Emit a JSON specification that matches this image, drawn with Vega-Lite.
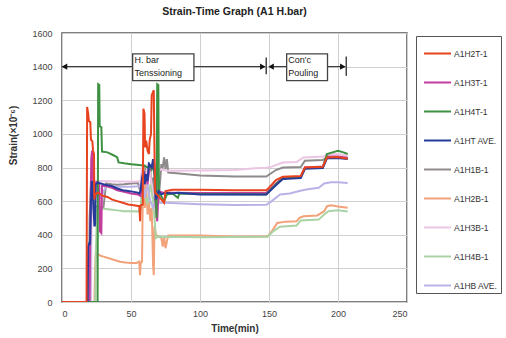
{
  "$schema": "https://vega.github.io/schema/vega-lite/v6.json",
  "width": 345,
  "height": 269,
  "autosize": {"type": "none"},
  "padding": {"left": 62, "top": 33, "right": 99, "bottom": 36},
  "background": "white",
  "title": {"text": "Strain-Time Graph (A1 H.bar)", "font": "Liberation Sans", "fontSize": 10.5, "fontWeight": "bold", "color": "#222", "offset": 12, "anchor": "middle"},
  "config": {
    "view": {"stroke": "#555", "strokeWidth": 1.5},
    "axis": {"labelFont": "Liberation Sans", "labelFontSize": 9, "labelColor": "#444", "titleFont": "Liberation Sans", "titleFontSize": 10, "titleFontWeight": "bold", "titleColor": "#333", "gridColor": "#cfcfcf", "gridWidth": 1, "domain": false, "ticks": false, "labelOverlap": false, "format": "d"},
    "legend": {"labelFont": "Liberation Sans", "labelFontSize": 8.5, "labelColor": "#333"}
  },
  "datasets": {
    "series": [
      {"s":"A1H1B-1","t":0,"v":0},{"s":"A1H1B-1","t":19.5,"v":0},{"s":"A1H1B-1","t":20,"v":500},{"s":"A1H1B-1","t":21,"v":700},{"s":"A1H1B-1","t":22,"v":680},{"s":"A1H1B-1","t":23,"v":600},{"s":"A1H1B-1","t":24,"v":570},{"s":"A1H1B-1","t":26,"v":565},{"s":"A1H1B-1","t":30,"v":560},{"s":"A1H1B-1","t":32,"v":705},{"s":"A1H1B-1","t":36,"v":700},{"s":"A1H1B-1","t":40,"v":698},{"s":"A1H1B-1","t":45,"v":700},{"s":"A1H1B-1","t":50,"v":705},{"s":"A1H1B-1","t":55,"v":708},{"s":"A1H1B-1","t":57,"v":650},{"s":"A1H1B-1","t":58,"v":760},{"s":"A1H1B-1","t":59,"v":820},{"s":"A1H1B-1","t":60,"v":760},{"s":"A1H1B-1","t":61,"v":800},{"s":"A1H1B-1","t":62,"v":740},{"s":"A1H1B-1","t":63,"v":830},{"s":"A1H1B-1","t":64,"v":780},{"s":"A1H1B-1","t":65,"v":700},{"s":"A1H1B-1","t":66,"v":740},{"s":"A1H1B-1","t":67,"v":600},{"s":"A1H1B-1","t":68,"v":560},{"s":"A1H1B-1","t":70,"v":600},{"s":"A1H1B-1","t":72,"v":820},{"s":"A1H1B-1","t":73,"v":800},{"s":"A1H1B-1","t":74,"v":860},{"s":"A1H1B-1","t":75,"v":790},{"s":"A1H1B-1","t":76,"v":850},{"s":"A1H1B-1","t":77,"v":770},{"s":"A1H1B-1","t":85,"v":765},{"s":"A1H1B-1","t":100,"v":752},{"s":"A1H1B-1","t":125,"v":746},{"s":"A1H1B-1","t":148,"v":746},{"s":"A1H1B-1","t":155,"v":785},{"s":"A1H1B-1","t":160,"v":800},{"s":"A1H1B-1","t":173,"v":803},{"s":"A1H1B-1","t":176,"v":840},{"s":"A1H1B-1","t":189,"v":845},{"s":"A1H1B-1","t":192,"v":858},{"s":"A1H1B-1","t":207,"v":855},

      {"s":"A1H2B-1","t":0,"v":0},{"s":"A1H2B-1","t":23.5,"v":0},{"s":"A1H2B-1","t":24,"v":200},{"s":"A1H2B-1","t":24.5,"v":290},{"s":"A1H2B-1","t":26,"v":285},{"s":"A1H2B-1","t":28,"v":275},{"s":"A1H2B-1","t":30,"v":270},{"s":"A1H2B-1","t":34,"v":260},{"s":"A1H2B-1","t":38,"v":250},{"s":"A1H2B-1","t":42,"v":240},{"s":"A1H2B-1","t":46,"v":235},{"s":"A1H2B-1","t":50,"v":232},{"s":"A1H2B-1","t":54,"v":232},{"s":"A1H2B-1","t":56,"v":240},{"s":"A1H2B-1","t":56.5,"v":160},{"s":"A1H2B-1","t":57,"v":230},{"s":"A1H2B-1","t":58,"v":240},{"s":"A1H2B-1","t":58.5,"v":600},{"s":"A1H2B-1","t":59,"v":800},{"s":"A1H2B-1","t":60,"v":560},{"s":"A1H2B-1","t":61,"v":700},{"s":"A1H2B-1","t":62,"v":520},{"s":"A1H2B-1","t":63,"v":600},{"s":"A1H2B-1","t":64,"v":480},{"s":"A1H2B-1","t":65,"v":560},{"s":"A1H2B-1","t":66,"v":220},{"s":"A1H2B-1","t":66.5,"v":160},{"s":"A1H2B-1","t":67,"v":450},{"s":"A1H2B-1","t":68,"v":400},{"s":"A1H2B-1","t":70,"v":390},{"s":"A1H2B-1","t":72,"v":380},{"s":"A1H2B-1","t":73,"v":330},{"s":"A1H2B-1","t":74,"v":390},{"s":"A1H2B-1","t":75,"v":320},{"s":"A1H2B-1","t":76,"v":360},{"s":"A1H2B-1","t":77,"v":395},{"s":"A1H2B-1","t":100,"v":395},{"s":"A1H2B-1","t":125,"v":390},{"s":"A1H2B-1","t":149,"v":390},{"s":"A1H2B-1","t":152,"v":420},{"s":"A1H2B-1","t":156,"v":470},{"s":"A1H2B-1","t":162,"v":478},{"s":"A1H2B-1","t":170,"v":480},{"s":"A1H2B-1","t":172,"v":500},{"s":"A1H2B-1","t":175,"v":510},{"s":"A1H2B-1","t":185,"v":515},{"s":"A1H2B-1","t":190,"v":540},{"s":"A1H2B-1","t":192,"v":570},{"s":"A1H2B-1","t":195,"v":575},{"s":"A1H2B-1","t":200,"v":568},{"s":"A1H2B-1","t":207,"v":560},

      {"s":"A1H3B-1","t":0,"v":0},{"s":"A1H3B-1","t":21,"v":0},{"s":"A1H3B-1","t":21.5,"v":600},{"s":"A1H3B-1","t":22,"v":800},{"s":"A1H3B-1","t":23,"v":720},{"s":"A1H3B-1","t":26,"v":720},{"s":"A1H3B-1","t":30,"v":720},{"s":"A1H3B-1","t":35,"v":718},{"s":"A1H3B-1","t":40,"v":716},{"s":"A1H3B-1","t":45,"v":716},{"s":"A1H3B-1","t":50,"v":715},{"s":"A1H3B-1","t":55,"v":716},{"s":"A1H3B-1","t":57,"v":720},{"s":"A1H3B-1","t":58,"v":800},{"s":"A1H3B-1","t":60,"v":700},{"s":"A1H3B-1","t":62,"v":820},{"s":"A1H3B-1","t":64,"v":760},{"s":"A1H3B-1","t":66,"v":640},{"s":"A1H3B-1","t":68,"v":620},{"s":"A1H3B-1","t":70,"v":780},{"s":"A1H3B-1","t":72,"v":790},{"s":"A1H3B-1","t":76,"v":780},{"s":"A1H3B-1","t":100,"v":782},{"s":"A1H3B-1","t":125,"v":785},{"s":"A1H3B-1","t":140,"v":795},{"s":"A1H3B-1","t":148,"v":798},{"s":"A1H3B-1","t":152,"v":805},{"s":"A1H3B-1","t":160,"v":830},{"s":"A1H3B-1","t":170,"v":832},{"s":"A1H3B-1","t":175,"v":860},{"s":"A1H3B-1","t":190,"v":865},{"s":"A1H3B-1","t":192,"v":880},{"s":"A1H3B-1","t":200,"v":880},{"s":"A1H3B-1","t":207,"v":870},

      {"s":"A1H4B-1","t":0,"v":0},{"s":"A1H4B-1","t":24,"v":0},{"s":"A1H4B-1","t":24.5,"v":300},{"s":"A1H4B-1","t":25.5,"v":560},{"s":"A1H4B-1","t":27,"v":560},{"s":"A1H4B-1","t":30,"v":555},{"s":"A1H4B-1","t":35,"v":550},{"s":"A1H4B-1","t":40,"v":545},{"s":"A1H4B-1","t":45,"v":540},{"s":"A1H4B-1","t":50,"v":540},{"s":"A1H4B-1","t":55,"v":538},{"s":"A1H4B-1","t":57,"v":560},{"s":"A1H4B-1","t":58,"v":700},{"s":"A1H4B-1","t":60,"v":640},{"s":"A1H4B-1","t":62,"v":580},{"s":"A1H4B-1","t":64,"v":700},{"s":"A1H4B-1","t":66,"v":600},{"s":"A1H4B-1","t":67.5,"v":450},{"s":"A1H4B-1","t":68,"v":380},{"s":"A1H4B-1","t":70,"v":390},{"s":"A1H4B-1","t":73,"v":385},{"s":"A1H4B-1","t":80,"v":388},{"s":"A1H4B-1","t":100,"v":385},{"s":"A1H4B-1","t":149,"v":388},{"s":"A1H4B-1","t":153,"v":420},{"s":"A1H4B-1","t":158,"v":448},{"s":"A1H4B-1","t":170,"v":455},{"s":"A1H4B-1","t":173,"v":485},{"s":"A1H4B-1","t":186,"v":490},{"s":"A1H4B-1","t":190,"v":520},{"s":"A1H4B-1","t":193,"v":540},{"s":"A1H4B-1","t":200,"v":545},{"s":"A1H4B-1","t":207,"v":538},

      {"s":"A1HB AVE.","t":0,"v":0},{"s":"A1HB AVE.","t":20.5,"v":0},{"s":"A1HB AVE.","t":21,"v":500},{"s":"A1HB AVE.","t":22,"v":700},{"s":"A1HB AVE.","t":24,"v":640},{"s":"A1HB AVE.","t":28,"v":620},{"s":"A1HB AVE.","t":32,"v":690},{"s":"A1HB AVE.","t":40,"v":685},{"s":"A1HB AVE.","t":50,"v":685},{"s":"A1HB AVE.","t":56,"v":688},{"s":"A1HB AVE.","t":58,"v":720},{"s":"A1HB AVE.","t":60,"v":620},{"s":"A1HB AVE.","t":62,"v":700},{"s":"A1HB AVE.","t":64,"v":600},{"s":"A1HB AVE.","t":66,"v":560},{"s":"A1HB AVE.","t":68,"v":600},{"s":"A1HB AVE.","t":70,"v":590},{"s":"A1HB AVE.","t":75,"v":590},{"s":"A1HB AVE.","t":100,"v":582},{"s":"A1HB AVE.","t":125,"v":577},{"s":"A1HB AVE.","t":148,"v":578},{"s":"A1HB AVE.","t":152,"v":600},{"s":"A1HB AVE.","t":158,"v":640},{"s":"A1HB AVE.","t":165,"v":645},{"s":"A1HB AVE.","t":172,"v":660},{"s":"A1HB AVE.","t":178,"v":670},{"s":"A1HB AVE.","t":186,"v":680},{"s":"A1HB AVE.","t":190,"v":705},{"s":"A1HB AVE.","t":195,"v":712},{"s":"A1HB AVE.","t":200,"v":712},{"s":"A1HB AVE.","t":207,"v":708},

      {"s":"A1H3T-1","t":0,"v":0},{"s":"A1H3T-1","t":20,"v":0},{"s":"A1H3T-1","t":20.5,"v":450},{"s":"A1H3T-1","t":21.2,"v":850},{"s":"A1H3T-1","t":21.8,"v":900},{"s":"A1H3T-1","t":22.5,"v":720},{"s":"A1H3T-1","t":23,"v":700},{"s":"A1H3T-1","t":24,"v":710},{"s":"A1H3T-1","t":26,"v":715},{"s":"A1H3T-1","t":27,"v":700},{"s":"A1H3T-1","t":27.5,"v":420},{"s":"A1H3T-1","t":28.5,"v":410},{"s":"A1H3T-1","t":29,"v":690},{"s":"A1H3T-1","t":32,"v":690},{"s":"A1H3T-1","t":36,"v":680},{"s":"A1H3T-1","t":40,"v":665},{"s":"A1H3T-1","t":45,"v":655},{"s":"A1H3T-1","t":50,"v":645},{"s":"A1H3T-1","t":55,"v":640},{"s":"A1H3T-1","t":57,"v":630},{"s":"A1H3T-1","t":58,"v":720},{"s":"A1H3T-1","t":60,"v":760},{"s":"A1H3T-1","t":62,"v":700},{"s":"A1H3T-1","t":63,"v":780},{"s":"A1H3T-1","t":65,"v":800},{"s":"A1H3T-1","t":66,"v":830},{"s":"A1H3T-1","t":67,"v":820},{"s":"A1H3T-1","t":68,"v":560},{"s":"A1H3T-1","t":69,"v":480},{"s":"A1H3T-1","t":70,"v":660},{"s":"A1H3T-1","t":73,"v":650},{"s":"A1H3T-1","t":78,"v":650},{"s":"A1H3T-1","t":100,"v":648},{"s":"A1H3T-1","t":148,"v":648},{"s":"A1H3T-1","t":155,"v":705},{"s":"A1H3T-1","t":160,"v":738},{"s":"A1H3T-1","t":173,"v":745},{"s":"A1H3T-1","t":176,"v":800},{"s":"A1H3T-1","t":189,"v":806},{"s":"A1H3T-1","t":192,"v":865},{"s":"A1H3T-1","t":200,"v":865},{"s":"A1H3T-1","t":207,"v":858},

      {"s":"A1H4T-1","t":0,"v":0},{"s":"A1H4T-1","t":25.8,"v":0},{"s":"A1H4T-1","t":26.2,"v":1295},{"s":"A1H4T-1","t":27,"v":1290},{"s":"A1H4T-1","t":27.3,"v":1045},{"s":"A1H4T-1","t":28.5,"v":1040},{"s":"A1H4T-1","t":29,"v":895},{"s":"A1H4T-1","t":33,"v":890},{"s":"A1H4T-1","t":38,"v":870},{"s":"A1H4T-1","t":40,"v":860},{"s":"A1H4T-1","t":41,"v":830},{"s":"A1H4T-1","t":45,"v":825},{"s":"A1H4T-1","t":50,"v":820},{"s":"A1H4T-1","t":56,"v":815},{"s":"A1H4T-1","t":60,"v":810},{"s":"A1H4T-1","t":62,"v":800},{"s":"A1H4T-1","t":64,"v":810},{"s":"A1H4T-1","t":65,"v":790},{"s":"A1H4T-1","t":66,"v":820},{"s":"A1H4T-1","t":67,"v":760},{"s":"A1H4T-1","t":68,"v":620},{"s":"A1H4T-1","t":68.5,"v":500},{"s":"A1H4T-1","t":69,"v":1295},{"s":"A1H4T-1","t":69.8,"v":1290},{"s":"A1H4T-1","t":70.2,"v":640},{"s":"A1H4T-1","t":72,"v":630},{"s":"A1H4T-1","t":74,"v":600},{"s":"A1H4T-1","t":76,"v":640},{"s":"A1H4T-1","t":80,"v":645},{"s":"A1H4T-1","t":84,"v":620},{"s":"A1H4T-1","t":85,"v":645},{"s":"A1H4T-1","t":100,"v":642},{"s":"A1H4T-1","t":148,"v":640},{"s":"A1H4T-1","t":155,"v":700},{"s":"A1H4T-1","t":160,"v":735},{"s":"A1H4T-1","t":173,"v":742},{"s":"A1H4T-1","t":176,"v":795},{"s":"A1H4T-1","t":189,"v":800},{"s":"A1H4T-1","t":192,"v":880},{"s":"A1H4T-1","t":196,"v":890},{"s":"A1H4T-1","t":200,"v":900},{"s":"A1H4T-1","t":204,"v":890},{"s":"A1H4T-1","t":207,"v":880},

      {"s":"A1HT AVE.","t":0,"v":0},{"s":"A1HT AVE.","t":18.5,"v":0},{"s":"A1HT AVE.","t":19,"v":330},{"s":"A1HT AVE.","t":19.8,"v":350},{"s":"A1HT AVE.","t":20.3,"v":340},{"s":"A1HT AVE.","t":21,"v":600},{"s":"A1HT AVE.","t":21.5,"v":720},{"s":"A1HT AVE.","t":22,"v":700},{"s":"A1HT AVE.","t":22.8,"v":560},{"s":"A1HT AVE.","t":23.5,"v":450},{"s":"A1HT AVE.","t":24,"v":460},{"s":"A1HT AVE.","t":24.5,"v":700},{"s":"A1HT AVE.","t":26,"v":710},{"s":"A1HT AVE.","t":30,"v":700},{"s":"A1HT AVE.","t":33,"v":695},{"s":"A1HT AVE.","t":36,"v":690},{"s":"A1HT AVE.","t":40,"v":675},{"s":"A1HT AVE.","t":44,"v":665},{"s":"A1HT AVE.","t":48,"v":660},{"s":"A1HT AVE.","t":52,"v":655},{"s":"A1HT AVE.","t":55,"v":650},{"s":"A1HT AVE.","t":56,"v":645},{"s":"A1HT AVE.","t":57,"v":660},{"s":"A1HT AVE.","t":58,"v":740},{"s":"A1HT AVE.","t":59,"v":780},{"s":"A1HT AVE.","t":60,"v":700},{"s":"A1HT AVE.","t":61,"v":760},{"s":"A1HT AVE.","t":62,"v":720},{"s":"A1HT AVE.","t":63,"v":820},{"s":"A1HT AVE.","t":65,"v":800},{"s":"A1HT AVE.","t":66,"v":850},{"s":"A1HT AVE.","t":67,"v":780},{"s":"A1HT AVE.","t":68,"v":610},{"s":"A1HT AVE.","t":69,"v":630},{"s":"A1HT AVE.","t":70,"v":660},{"s":"A1HT AVE.","t":72,"v":640},{"s":"A1HT AVE.","t":75,"v":650},{"s":"A1HT AVE.","t":80,"v":645},{"s":"A1HT AVE.","t":84,"v":650},{"s":"A1HT AVE.","t":100,"v":640},{"s":"A1HT AVE.","t":148,"v":640},{"s":"A1HT AVE.","t":155,"v":695},{"s":"A1HT AVE.","t":160,"v":732},{"s":"A1HT AVE.","t":173,"v":738},{"s":"A1HT AVE.","t":176,"v":792},{"s":"A1HT AVE.","t":189,"v":797},{"s":"A1HT AVE.","t":192,"v":855},{"s":"A1HT AVE.","t":200,"v":856},{"s":"A1HT AVE.","t":207,"v":850},

      {"s":"A1H2T-1","t":0,"v":0},{"s":"A1H2T-1","t":17.8,"v":0},{"s":"A1H2T-1","t":18.2,"v":1160},{"s":"A1H2T-1","t":19,"v":1120},{"s":"A1H2T-1","t":19.5,"v":1075},{"s":"A1H2T-1","t":20.5,"v":1070},{"s":"A1H2T-1","t":21,"v":965},{"s":"A1H2T-1","t":22,"v":955},{"s":"A1H2T-1","t":22.5,"v":900},{"s":"A1H2T-1","t":23.2,"v":880},{"s":"A1H2T-1","t":23.4,"v":610},{"s":"A1H2T-1","t":24,"v":640},{"s":"A1H2T-1","t":26,"v":650},{"s":"A1H2T-1","t":28,"v":640},{"s":"A1H2T-1","t":30,"v":630},{"s":"A1H2T-1","t":33,"v":625},{"s":"A1H2T-1","t":36,"v":610},{"s":"A1H2T-1","t":40,"v":600},{"s":"A1H2T-1","t":44,"v":590},{"s":"A1H2T-1","t":48,"v":580},{"s":"A1H2T-1","t":52,"v":575},{"s":"A1H2T-1","t":56,"v":570},{"s":"A1H2T-1","t":56.6,"v":480},{"s":"A1H2T-1","t":57,"v":575},{"s":"A1H2T-1","t":58.5,"v":580},{"s":"A1H2T-1","t":59,"v":1150},{"s":"A1H2T-1","t":59.8,"v":1120},{"s":"A1H2T-1","t":60.2,"v":920},{"s":"A1H2T-1","t":61,"v":960},{"s":"A1H2T-1","t":62,"v":900},{"s":"A1H2T-1","t":63,"v":880},{"s":"A1H2T-1","t":63.5,"v":960},{"s":"A1H2T-1","t":64.5,"v":1000},{"s":"A1H2T-1","t":65,"v":1230},{"s":"A1H2T-1","t":66,"v":1250},{"s":"A1H2T-1","t":66.5,"v":1260},{"s":"A1H2T-1","t":67,"v":900},{"s":"A1H2T-1","t":67.5,"v":650},{"s":"A1H2T-1","t":69,"v":640},{"s":"A1H2T-1","t":71,"v":620},{"s":"A1H2T-1","t":73,"v":600},{"s":"A1H2T-1","t":74,"v":590},{"s":"A1H2T-1","t":75,"v":660},{"s":"A1H2T-1","t":80,"v":668},{"s":"A1H2T-1","t":100,"v":668},{"s":"A1H2T-1","t":125,"v":665},{"s":"A1H2T-1","t":148,"v":665},{"s":"A1H2T-1","t":150,"v":680},{"s":"A1H2T-1","t":155,"v":725},{"s":"A1H2T-1","t":160,"v":745},{"s":"A1H2T-1","t":173,"v":750},{"s":"A1H2T-1","t":176,"v":800},{"s":"A1H2T-1","t":189,"v":805},{"s":"A1H2T-1","t":192,"v":860},{"s":"A1H2T-1","t":200,"v":862},{"s":"A1H2T-1","t":207,"v":852}
    ],
    "spans": [{"t": 0, "t2": 147, "v": 1400}, {"t": 151, "t2": 205, "v": 1400}],
    "bars": [{"t": 148, "v": 1355, "v2": 1455}, {"t": 206, "v": 1345, "v2": 1460}],
    "rightHeads": [{"t": 145.5, "v": 1400}, {"t": 203.5, "v": 1400}],
    "leftHeads": [{"t": 1.8, "v": 1400}, {"t": 151.5, "v": 1400}],
    "boxes": [{"t": 51.2, "t2": 95.6, "v": 1317, "v2": 1476, "label": "H. bar\nTenssioning", "tx": 52.5}, {"t": 162.8, "t2": 192.4, "v": 1317, "v2": 1476, "label": "Con'c\nPouling", "tx": 164}]
  },
  "encoding": {
    "x": {"field": "t", "type": "quantitative", "scale": {"domain": [0, 250], "nice": false}, "axis": {"title": "Time(min)", "values": [0, 50, 100, 150, 200, 250], "tickCount": 12, "labelPadding": 7, "titlePadding": 5}},
    "y": {"field": "v", "type": "quantitative", "scale": {"domain": [0, 1600], "nice": false}, "axis": {"title": "Strain(×10⁻⁶)", "values": [0, 200, 400, 600, 800, 1000, 1200, 1400, 1600], "tickCount": 12, "labelPadding": 10, "titleX": -44, "titleY": 102}}
  },
  "layer": [
    {
      "data": {"name": "series"},
      "mark": {"type": "line", "interpolate": "linear", "clip": true},
      "encoding": {
        "color": {"field": "s", "type": "nominal", "scale": {"domain": ["A1H2T-1", "A1H3T-1", "A1H4T-1", "A1HT AVE.", "A1H1B-1", "A1H2B-1", "A1H3B-1", "A1H4B-1", "A1HB AVE."], "range": ["#e8431f", "#c23d9e", "#3f9142", "#263a9a", "#8f8a8c", "#f2a27a", "#ebc5e3", "#a9d3a5", "#b9b2e6"]}, "legend": {"title": null, "orient": "none", "legendX": 354, "legendY": 3, "strokeColor": "#555", "padding": 3, "rowPadding": 10, "symbolType": "stroke", "symbolSize": 729, "symbolOffset": 4, "labelOffset": 2, "labelLimit": 80}},
        "strokeWidth": {"field": "s", "type": "nominal", "scale": {"domain": ["A1H2T-1", "A1H3T-1", "A1H4T-1", "A1HT AVE.", "A1H1B-1", "A1H2B-1", "A1H3B-1", "A1H4B-1", "A1HB AVE."], "range": [2, 2, 2, 2.8, 1, 1, 1, 1, 1]}, "legend": {"title": null, "orient": "none", "legendX": 354, "legendY": 3, "strokeColor": "#555", "padding": 3, "rowPadding": 10, "symbolType": "stroke", "symbolSize": 729, "symbolOffset": 4, "labelOffset": 2, "labelLimit": 80}}
      }
    },
    {
      "data": {"name": "spans"},
      "mark": {"type": "rule", "color": "#222", "strokeWidth": 1},
      "encoding": {"x2": {"field": "t2"}}
    },
    {
      "data": {"name": "bars"},
      "mark": {"type": "rule", "color": "#444", "strokeWidth": 1.5},
      "encoding": {"y2": {"field": "v2"}}
    },
    {
      "data": {"name": "rightHeads"},
      "mark": {"type": "point", "shape": "triangle-right", "filled": true, "color": "#111", "size": 40, "opacity": 1}
    },
    {
      "data": {"name": "leftHeads"},
      "mark": {"type": "point", "shape": "triangle-left", "filled": true, "color": "#111", "size": 40, "opacity": 1}
    },
    {
      "data": {"name": "boxes"},
      "mark": {"type": "rect", "fill": "white", "stroke": "#444", "strokeWidth": 1.3},
      "encoding": {"x2": {"field": "t2"}, "y2": {"field": "v2"}}
    },
    {
      "data": {"name": "boxes"},
      "mark": {"type": "text", "align": "left", "baseline": "top", "lineBreak": "\n", "lineHeight": 13, "font": "Liberation Sans", "fontSize": 9, "color": "#222", "dy": 2},
      "encoding": {"x": {"field": "tx", "type": "quantitative"}, "y": {"field": "v2", "type": "quantitative"}, "text": {"field": "label"}}
    }
  ]
}
